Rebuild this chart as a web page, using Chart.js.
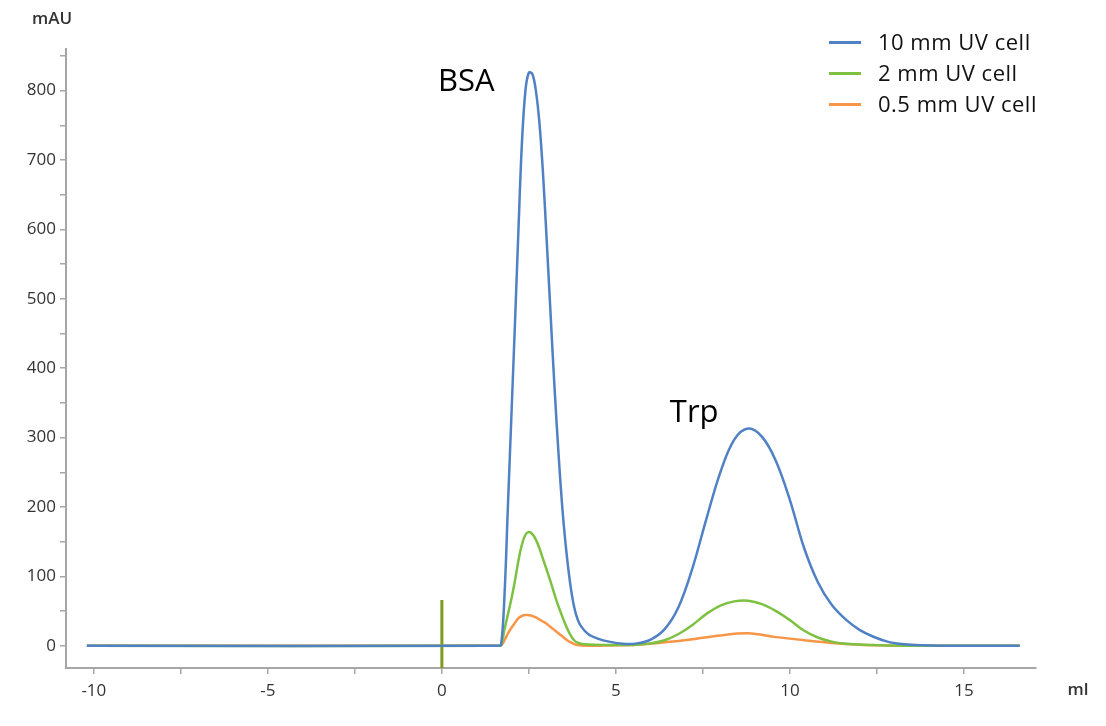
<!DOCTYPE html>
<html>
<head>
<meta charset="utf-8">
<script src="https://cdn.jsdelivr.net/npm/chart.js@4/dist/chart.umd.min.js"></script>
<style>
  body { margin: 0; background: #fff; }
  #wrap { position: relative; width: 1106px; height: 726px; }
  #legend { position: absolute; left: 829px; top: 26px; font-family: "Open Sans", sans-serif; font-size: 22px; letter-spacing: 0.5px; color: #111; }
  #legend div { height: 31px; line-height: 31px; white-space: nowrap; }
  #legend span.sw { display: inline-block; width: 32px; height: 3px; vertical-align: middle; margin-right: 17px; margin-top: -4px; }
</style>
</head>
<body>
<div id="wrap">
  <canvas id="chart"></canvas>
  <div id="legend"></div>
</div>
<script>
// elution volume (ml) and absorbance (mAU)
const blueMl = [-10.2, 1.6, 1.7, 1.8, 1.9, 2.0, 2.1, 2.2, 2.3, 2.4, 2.5, 2.6, 2.7, 2.8, 2.9, 3.0, 3.1, 3.2, 3.3, 3.4, 3.5, 3.6, 3.7, 3.8, 3.9, 4.0, 4.2, 4.5, 4.8, 5.2,
  5.6, 6.0, 6.4, 6.8, 7.2, 7.6, 8.0, 8.4, 8.8, 9.2, 9.6, 10.0, 10.4, 10.8, 11.2, 11.6, 12.0, 12.4, 12.8, 13.2, 13.6, 14.4, 16.6];
const blueAu = [0, 0, 1.5, 74, 205, 335, 465, 600, 725, 800, 826, 824, 800, 755, 685, 595, 500, 405, 318, 240, 175, 125, 85, 56, 38, 28, 17, 10, 6, 3,
  3.5, 9, 24, 56, 112, 183, 250, 297, 313, 301, 266, 210, 142, 92, 59, 38, 23, 13, 6, 2.5, 1, 0, 0];

const greenMl = [-10.2, 1.6, 1.7, 1.8, 1.9, 2.0, 2.1, 2.2, 2.3, 2.4, 2.5, 2.6, 2.7, 2.8, 2.9, 3.0, 3.1, 3.2, 3.3, 3.4, 3.5, 3.6, 3.7, 3.8, 3.9, 4.0, 4.2, 4.6, 5.0,
  5.6, 6.0, 6.4, 6.8, 7.2, 7.6, 8.0, 8.4, 8.8, 9.2, 9.6, 10.0, 10.4, 10.8, 11.2, 11.6, 12.0, 12.4, 12.8, 13.6, 16.6];
const greenAu = [0, 0, 1, 24, 46, 68, 94, 123, 146, 160, 164, 161, 153, 141, 126, 111, 96, 80, 64, 50, 37, 25, 15, 8, 4.5, 3, 2, 1.2, 1,
  1.5, 3.5, 8, 17, 30, 46, 58, 64, 65, 60, 50, 37, 22, 12, 6, 3, 2, 1, 0.5, 0, 0];

const orangeMl = [-10.2, 1.6, 1.7, 1.8, 1.9, 2.0, 2.1, 2.2, 2.3, 2.4, 2.5, 2.6, 2.7, 2.8, 2.9, 3.0, 3.1, 3.2, 3.3, 3.4, 3.5, 3.6, 3.7, 3.8, 3.9, 4.0, 4.4, 4.8,
  5.6, 6.4, 7.2, 8.0, 8.8, 9.6, 10.4, 11.2, 12.0, 12.8, 13.6, 16.6];
const orangeAu = [0, 0, 0.5, 8, 18, 26, 33, 40, 43, 44.5, 44, 43, 41, 38, 35, 32, 28, 24, 20, 16, 12, 8, 5, 2.5, 1, 0.5, 0, 0.5,
  1.5, 5, 9.5, 15, 18, 12.5, 8, 4, 1.5, 0.5, 0, 0];

const injectMl = [0, 0];
const injectAu = [-32, 66];

const seriesNames = ['10 mm UV cell', '2 mm UV cell', '0.5 mm UV cell'];
const seriesColors = ['#4f81c4', '#7dc142', '#f79646'];

function pts(xs, ys) {
  return xs.map((x, i) => ({ x: x, y: ys[i] }));
}

const labelsPlugin = {
  id: 'labels',
  afterDraw(chart) {
    const ctx = chart.ctx;
    const x = chart.scales.x, y = chart.scales.y;
    const a = chart.chartArea;
    ctx.save();
    ctx.fillStyle = '#000';
    ctx.font = '31px "Open Sans", sans-serif';
    ctx.textAlign = 'center';
    ctx.textBaseline = 'middle';
    ctx.fillText('BSA', x.getPixelForValue(0.7), y.getPixelForValue(812));
    ctx.fillText('Trp', x.getPixelForValue(7.25), y.getPixelForValue(335));
    ctx.fillStyle = '#333';
    ctx.font = '600 17px "Open Sans", sans-serif';
    ctx.fillText('mAU', a.left - 14, 19);
    ctx.fillText('ml', a.right + 42, a.bottom + 22);
    ctx.restore();
  }
};

const ctx = document.getElementById('chart').getContext('2d');
new Chart(ctx, {
  type: 'line',
  data: {
    datasets: [
      { label: seriesNames[0], data: pts(blueMl, blueAu), borderColor: seriesColors[0] },
      { label: seriesNames[1], data: pts(greenMl, greenAu), borderColor: seriesColors[1] },
      { label: seriesNames[2], data: pts(orangeMl, orangeAu), borderColor: seriesColors[2] },
      { label: 'inject', data: pts(injectMl, injectAu), borderColor: '#7f9a1d', borderWidth: 3, tension: 0 }
    ]
  },
  options: {
    responsive: true,
    maintainAspectRatio: false,
    animation: false,
    layout: { padding: { left: 0, right: 70, top: 49, bottom: 0 } },
    elements: {
      point: { radius: 0 },
      line: { borderWidth: 2.5, tension: 0.35, fill: false }
    },
    plugins: { legend: { display: false }, tooltip: { enabled: false } },
    scales: {
      x: {
        type: 'linear',
        min: -10.8,
        max: 17.07,
        afterFit(scale) { scale.height = 58; },
        border: { color: '#a6a6a6', width: 2 },
        grid: { drawOnChartArea: false, tickLength: 6, color: '#a6a6a6', lineWidth: 1.5 },
        ticks: {
          stepSize: 2.5,
          includeBounds: false,
          autoSkip: false,
          maxRotation: 0,
          padding: 7,
          color: '#333',
          font: { family: '"Open Sans", sans-serif', size: 17, weight: '500' },
          callback: (v) => (v % 5 === 0 ? v : '')
        }
      },
      y: {
        type: 'linear',
        min: -32,
        max: 860,
        afterFit(scale) { scale.width = 66; },
        border: { color: '#a6a6a6', width: 2 },
        grid: { drawOnChartArea: false, tickLength: 6, color: '#a6a6a6', lineWidth: 1.5 },
        ticks: {
          stepSize: 50,
          includeBounds: false,
          autoSkip: false,
          padding: 4,
          color: '#333',
          font: { family: '"Open Sans", sans-serif', size: 17, weight: '500' },
          callback: (v) => (v % 100 === 0 ? v : '')
        }
      }
    }
  },
  plugins: [labelsPlugin]
});

// legend rows
const legend = document.getElementById('legend');
seriesNames.forEach((name, i) => {
  const row = document.createElement('div');
  row.innerHTML = '<span class="sw" style="background:' + seriesColors[i] + '"></span>' + name;
  legend.appendChild(row);
});
</script>
</body>
</html>
